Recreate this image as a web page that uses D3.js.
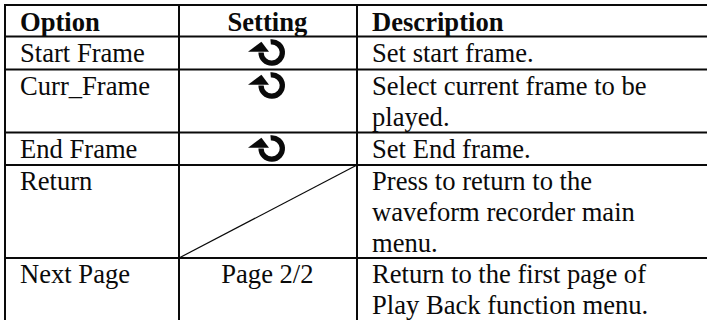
<!DOCTYPE html>
<html><head><meta charset="utf-8">
<script src="https://cdn.jsdelivr.net/npm/d3@7/dist/d3.min.js"></script>
<style>html,body{margin:0;padding:0;background:#fff}svg{display:block}text{font-family:"Liberation Serif",serif;font-size:26.6px;fill:#0a0a0a}</style>
</head><body><svg id="c" width="707" height="320"></svg>
<script>
const headers = ["Option", "Setting", "Description"];
const options = ["Start Frame", "Curr_Frame", "End Frame", "Return", "Next Page"];
const settings = ["icon", "icon", "icon", "none", "Page 2/2"];
const descriptions = [
  ["Set start frame."],
  ["Select current frame to be", "played."],
  ["Set End frame."],
  ["Press to return to the", "waveform recorder main", "menu."],
  ["Return to the first page of", "Play Back function menu."]
];
const rowLines = [5, 36.5, 69.5, 132.5, 165, 258];
const colLines = [5, 179, 357];
const W = 707, H = 320, LH = 31;
const svg = d3.select("#c");
const ink = "#0a0a0a";

svg.selectAll(".h").data(rowLines).join("line").attr("class","h")
  .attr("x1",colLines[0]-1).attr("x2",W).attr("y1",d=>d).attr("y2",d=>d)
  .attr("stroke",ink).attr("stroke-width",2);
svg.selectAll(".v").data(colLines).join("line").attr("class","v")
  .attr("x1",d=>d).attr("x2",d=>d).attr("y1",rowLines[0]).attr("y2",H)
  .attr("stroke",ink).attr("stroke-width",2);

const textX = [20, 267.4, 372];
svg.selectAll(".hd").data(headers).join("text").attr("class","hd")
  .attr("x",(d,i)=>textX[i]).attr("y",30.5).attr("text-anchor",(d,i)=>i===1?"middle":"start")
  .style("font-weight","bold").text(d=>d);

const base = i => rowLines[i+1] + 25;
svg.selectAll(".op").data(options).join("text").attr("class","op")
  .attr("x",textX[0]).attr("y",(d,i)=>base(i)).text(d=>d);

descriptions.forEach((lines,i)=>{
  svg.append("g").selectAll("text").data(lines).join("text")
    .attr("x",textX[2]).attr("y",(d,j)=>base(i)+j*LH).text(d=>d);
});

settings.forEach((s,i)=>{
  if (s === "icon") {
    const g = svg.append("g").attr("transform",`translate(271.7,${rowLines[i+1] + 16})`);
    const p = d3.arc()({innerRadius:8,outerRadius:13.3,startAngle:-0.1,endAngle:Math.PI*1.5});
    g.append("path").attr("d",p).attr("fill",ink);
    g.append("path").attr("d",d3.line()([[-23.7,-0.7],[-10.3,-10.7],[-2.7,-0.7]])).attr("fill",ink);
  } else if (s === "none") {
    svg.append("line").attr("x1",colLines[1]).attr("y1",rowLines[i+2])
      .attr("x2",colLines[2]).attr("y2",rowLines[i+1]).attr("stroke",ink).attr("stroke-width",1.2);
  } else {
    svg.append("text").attr("x",textX[1]).attr("y",base(i)).attr("text-anchor","middle").text(s);
  }
});
</script></body></html>
